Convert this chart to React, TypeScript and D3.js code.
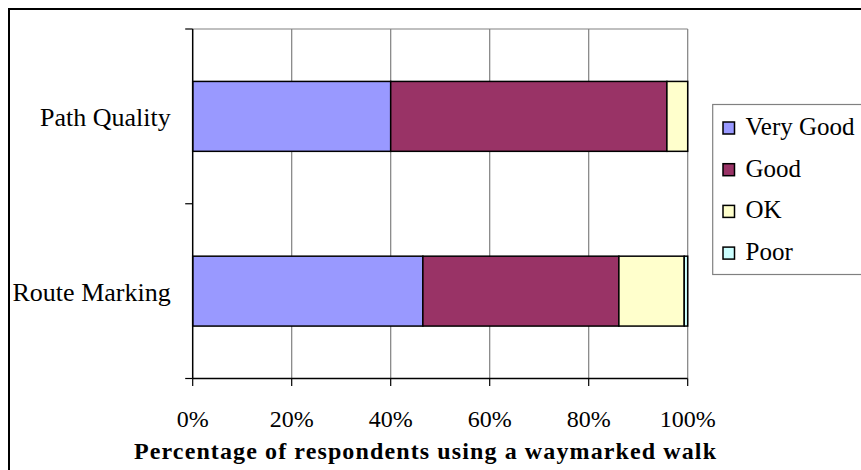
import React, { useEffect, useRef } from 'react';
import * as d3 from 'd3';

const categories = ['Path Quality', 'Route Marking'];
const seriesNames = ['Very Good', 'Good', 'OK', 'Poor'];
const veryGood = [40, 46.5];
const good = [55.8, 39.6];
const ok = [4.2, 13.2];
const poor = [0, 0.7];
const xTicks = [0, 20, 40, 60, 80, 100];
const colors = ['#9999FF', '#993366', '#FFFFCC', '#CCFFFF'];
const axisTitle = 'Percentage of respondents using a waymarked walk';

const App = () => {
  const chartRef = useRef<SVGSVGElement>(null);

  useEffect(() => {
    const width = 861;
    const height = 470;
    const plot = { left: 192.7, right: 687.7, top: 29, bottom: 378.5 };
    const font = "'Liberation Serif', 'Times New Roman', Times, serif";

    const svg = d3.select(chartRef.current);
    svg.selectAll('*').remove();
    svg.attr('width', width).attr('height', height).style('font-family', font);

    // outer frame (right/bottom edges fall outside the picture)
    svg
      .append('rect')
      .attr('x', 9)
      .attr('y', 9)
      .attr('width', 900)
      .attr('height', 500)
      .attr('fill', '#fff')
      .attr('stroke', '#000')
      .attr('stroke-width', 2);

    const rows = categories.map((c, i) => ({
      category: c,
      'Very Good': veryGood[i],
      Good: good[i],
      OK: ok[i],
      Poor: poor[i],
    }));

    const xScale = d3.scaleLinear().domain([0, 100]).range([plot.left, plot.right]);
    const yScale = d3
      .scaleBand()
      .domain(categories)
      .range([plot.top, plot.bottom])
      .paddingInner(0.6)
      .paddingOuter(0.3);
    const color = d3.scaleOrdinal<string, string>().domain(seriesNames).range(colors);

    // gridlines
    svg
      .append('g')
      .selectAll('line')
      .data(xTicks.slice(1))
      .enter()
      .append('line')
      .attr('x1', (d) => xScale(d))
      .attr('x2', (d) => xScale(d))
      .attr('y1', plot.top)
      .attr('y2', plot.bottom)
      .attr('stroke', '#808080')
      .attr('stroke-width', 1.2);

    svg
      .append('line')
      .attr('x1', plot.left)
      .attr('x2', plot.right)
      .attr('y1', plot.top)
      .attr('y2', plot.top)
      .attr('stroke', '#808080')
      .attr('stroke-width', 1.2);

    // stacked bars
    const stacked = d3.stack<any>().keys(seriesNames)(rows);
    svg
      .append('g')
      .selectAll('g')
      .data(stacked)
      .enter()
      .append('g')
      .attr('fill', (d) => color(d.key))
      .selectAll('rect')
      .data((d) => d.filter((p) => p[1] - p[0] > 0))
      .enter()
      .append('rect')
      .attr('x', (d) => xScale(d[0]))
      .attr('width', (d) => xScale(d[1]) - xScale(d[0]))
      .attr('y', (d) => yScale(d.data.category) as number)
      .attr('height', yScale.bandwidth())
      .attr('stroke', '#000')
      .attr('stroke-width', 1.5);

    // y axis
    const step = yScale.step();
    const yBounds = d3.range(categories.length + 1).map((i) => plot.top + i * step);
    const yAxis = svg.append('g');
    yAxis
      .append('line')
      .attr('x1', plot.left)
      .attr('x2', plot.left)
      .attr('y1', plot.top)
      .attr('y2', plot.bottom)
      .attr('stroke', '#000')
      .attr('stroke-width', 1.5);
    yAxis
      .selectAll('.ytick')
      .data(yBounds)
      .enter()
      .append('line')
      .attr('x1', plot.left - 7.5)
      .attr('x2', plot.left)
      .attr('y1', (d) => d)
      .attr('y2', (d) => d)
      .attr('stroke', '#000')
      .attr('stroke-width', 1.2);
    yAxis
      .selectAll('text')
      .data(categories)
      .enter()
      .append('text')
      .attr('x', 170.7)
      .attr('y', (d) => (yScale(d) as number) + yScale.bandwidth() / 2 + 9.5)
      .attr('text-anchor', 'end')
      .style('font-size', '26px')
      .text((d) => d);

    // x axis
    const xAxis = svg.append('g');
    xAxis
      .append('line')
      .attr('x1', plot.left)
      .attr('x2', plot.right)
      .attr('y1', plot.bottom)
      .attr('y2', plot.bottom)
      .attr('stroke', '#000')
      .attr('stroke-width', 1.5);
    xAxis
      .selectAll('.xtick')
      .data(xTicks)
      .enter()
      .append('line')
      .attr('x1', (d) => xScale(d))
      .attr('x2', (d) => xScale(d))
      .attr('y1', plot.bottom)
      .attr('y2', plot.bottom + 7.5)
      .attr('stroke', '#000')
      .attr('stroke-width', 1.2);
    xAxis
      .selectAll('text')
      .data(xTicks)
      .enter()
      .append('text')
      .attr('x', (d) => xScale(d))
      .attr('y', 427)
      .attr('text-anchor', 'middle')
      .style('font-size', '24px')
      .text((d) => `${d}%`);

    svg
      .append('text')
      .attr('x', 134)
      .attr('y', 459)
      .style('font-size', '24px')
      .style('font-weight', 'bold')
      .attr('textLength', 582)
      .attr('lengthAdjust', 'spacing')
      .text(axisTitle);

    // legend
    const legend = svg.append('g');
    legend
      .append('rect')
      .attr('x', 712.7)
      .attr('y', 104.5)
      .attr('width', 200)
      .attr('height', 170)
      .attr('fill', '#fff')
      .attr('stroke', '#808080')
      .attr('stroke-width', 1.2);
    const items = legend
      .selectAll('.item')
      .data(seriesNames)
      .enter()
      .append('g')
      .attr('transform', (d, i) => `translate(0, ${135 + i * 41.7})`);
    items
      .append('rect')
      .attr('x', 723)
      .attr('y', -13)
      .attr('width', 11.5)
      .attr('height', 12)
      .attr('fill', (d) => color(d))
      .attr('stroke', '#000')
      .attr('stroke-width', 1.5);
    items
      .append('text')
      .attr('x', 745.5)
      .attr('y', 0)
      .style('font-size', '25px')
      .text((d) => d);
  }, []);

  return (
    <svg
      ref={chartRef}
      style={{ position: 'absolute', left: 0, top: 0, display: 'block', background: '#fff' }}
    ></svg>
  );
};

export default App;
